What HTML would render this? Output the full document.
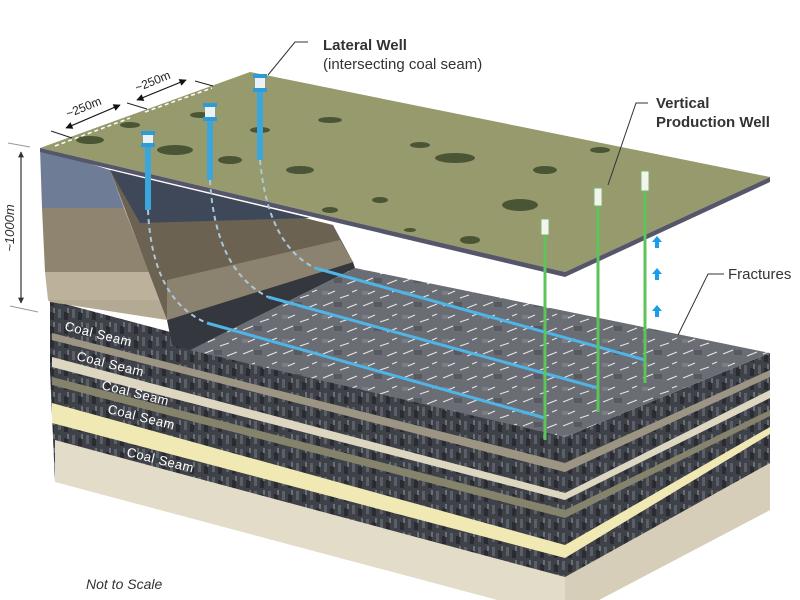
<!DOCTYPE html>
<html><head><meta charset="utf-8"><style>
html,body{margin:0;padding:0;background:#fff;}
svg{display:block;font-family:"Liberation Sans",sans-serif;}
</style></head><body>
<svg width="800" height="600" viewBox="0 0 800 600" xmlns="http://www.w3.org/2000/svg">
<defs>
<marker id="ah" viewBox="0 0 10 10" refX="9" refY="5" markerWidth="6" markerHeight="6" orient="auto-start-reverse"><path d="M0,0 L10,5 L0,10 z" fill="#111"/></marker>
<marker id="ah2" viewBox="0 0 10 10" refX="9" refY="5" markerWidth="5" markerHeight="5" orient="auto-start-reverse"><path d="M0,0 L10,5 L0,10 z" fill="#333"/></marker>
<pattern id="coal" width="14" height="14" patternUnits="userSpaceOnUse">
<rect width="14" height="14" fill="#3e4148"/><rect x="2" y="1" width="3" height="9" fill="#5b5f67"/><rect x="8" y="4" width="4" height="8" fill="#2a2c31"/><rect x="11" y="0" width="2" height="5" fill="#6a6e75"/>
</pattern>
<pattern id="plat" width="40" height="24" patternUnits="userSpaceOnUse">
<rect width="40" height="24" fill="#6a6d73"/><rect x="14" y="14" width="8" height="5" fill="#575a60"/><rect x="2" y="3" width="7" height="4" fill="#7a7d83"/>
<path d="M3,18 l10,-4 M20,10 l9,-3 M8,6 l7,-3 M27,20 l10,-4 M32,4 l5,-2" stroke="#e8e8e8" stroke-width="1"/>
</pattern>
</defs>

<!-- block front face: coal layers -->
<polygon points="50,300 565,437 565,620 50,620" fill="url(#coal)"/>
<polygon points="52,333 565,463 565,472 52,340" fill="#9d9583"/>
<polygon points="52,357 565,493 565,500 52,367" fill="#ddd6c0"/>
<polygon points="52,377 565,510 565,518 52,385" fill="#86836d"/>
<polygon points="52,403 565,545 565,558 52,423" fill="#f1e9b4"/>
<polygon points="55,440 565,577 565,620 55,620" fill="#e3dcc8"/>
<!-- right face -->
<polygon points="565,437 770,353 770,510 565,620" fill="url(#coal)"/>
<polygon points="565,463 770,370 770,377 565,472" fill="#9d9583"/>
<polygon points="565,493 770,390 770,398 565,500" fill="#ddd6c0"/>
<polygon points="565,510 770,410 770,416 565,518" fill="#86836d"/>
<polygon points="565,545 770,427 770,434 565,558" fill="#f1e9b4"/>
<polygon points="565,577 770,463 770,510 565,620" fill="#d6ceb8"/>
<!-- white cut-offs -->
<polygon points="0,140 40,148 55,482 565,618 565,620 0,620" fill="#fff"/>
<polygon points="565,618 770,510 800,510 800,620" fill="#fff"/>

<!-- plateau top -->
<polygon points="190,350 355,268 770,353 565,437" fill="url(#plat)"/>
<!-- coal face under slope -->
<polygon points="167,320 353,262 355,268 190,350 172,345" fill="#34373d"/>

<!-- upper left front face -->
<polygon points="40,148 110,170 124,208 42,208" fill="#6e7d95"/>
<polygon points="42,208 124,208 149,272 45,272" fill="#8e8470"/>
<polygon points="45,272 149,272 160,300 48,300" fill="#bcb29c"/>
<polygon points="48,300 160,300 167,320 50,302" fill="#b4aa93"/>
<!-- slope face -->
<polygon points="110,170 333,225 353,262 167,320" fill="#6b6252"/>
<polygon points="110,170 310,218 140,223" fill="#3e4858"/>
<polygon points="167,280 340,240 353,262 167,320" fill="#8b836f"/>

<!-- terrain plate -->
<polygon points="40,148 250,72 770,177 565,272" fill="#969a6c"/>
<polygon points="40,148 565,272 565,277 40,152" fill="#55566a"/>
<polygon points="565,272 770,177 770,182 565,277" fill="#55566a"/>
<g fill="#3d4a2c" opacity="0.85">
<ellipse cx="90" cy="140" rx="14" ry="4"/><ellipse cx="130" cy="125" rx="10" ry="3"/><ellipse cx="175" cy="150" rx="18" ry="5"/>
<ellipse cx="230" cy="160" rx="12" ry="4"/><ellipse cx="200" cy="115" rx="10" ry="3"/><ellipse cx="300" cy="170" rx="14" ry="4"/>
<ellipse cx="330" cy="120" rx="12" ry="3"/><ellipse cx="420" cy="145" rx="10" ry="3"/><ellipse cx="455" cy="158" rx="20" ry="5"/>
<ellipse cx="520" cy="205" rx="18" ry="6"/><ellipse cx="470" cy="240" rx="10" ry="4"/><ellipse cx="545" cy="170" rx="12" ry="4"/>
<ellipse cx="380" cy="200" rx="8" ry="3"/><ellipse cx="260" cy="130" rx="10" ry="3"/><ellipse cx="600" cy="150" rx="10" ry="3"/>
<ellipse cx="330" cy="210" rx="8" ry="3"/><ellipse cx="410" cy="230" rx="6" ry="2"/>
</g>
<path d="M55,146 L130,118 M145,112 L212,88" stroke="#fff" stroke-width="1.5" stroke-dasharray="4,3"/>

<!-- lateral wells -->
<g fill="none" stroke="#aac8dc" stroke-width="2" stroke-dasharray="5,4">
<path d="M148,210 Q152,300 207,323"/>
<path d="M210,180 Q215,270 268,297"/>
<path d="M260,160 Q268,245 315,268"/>
</g>
<g stroke="#4fb4e6" stroke-width="3" fill="none">
<path d="M207,323 L545,418"/><path d="M268,297 L598,388"/><path d="M315,268 L645,360"/>
</g>
<g>
<rect x="145" y="145" width="6" height="65" fill="#3aa6dd"/><rect x="207" y="117" width="6" height="63" fill="#3aa6dd"/><rect x="257" y="88" width="6" height="72" fill="#3aa6dd"/>
<rect x="143" y="135" width="10" height="10" fill="#e8f2f8"/><rect x="205" y="107" width="10" height="10" fill="#e8f2f8"/><rect x="255" y="78" width="10" height="10" fill="#e8f2f8"/>
<rect x="141" y="131" width="14" height="4" fill="#2f9bd6"/><rect x="203" y="117" width="14" height="4" fill="#2f9bd6"/><rect x="253" y="88" width="14" height="4" fill="#2f9bd6"/>
<rect x="203" y="103" width="14" height="4" fill="#2f9bd6"/><rect x="253" y="74" width="14" height="4" fill="#2f9bd6"/><rect x="141" y="143" width="14" height="4" fill="#2f9bd6"/>
</g>

<!-- vertical wells -->
<g stroke="#5cc45a" stroke-width="3">
<line x1="545" y1="222" x2="545" y2="440"/><line x1="598" y1="190" x2="598" y2="412"/><line x1="645" y1="173" x2="645" y2="383"/>
</g>
<g fill="#f4f4ee" stroke="#7fb26f" stroke-width="1">
<rect x="541" y="219" width="8" height="16"/><rect x="594" y="188" width="8" height="18"/><rect x="641" y="171" width="8" height="20"/>
</g>
<g fill="#1a9ee8">
<path d="M657,236 l5,6 h-3 v6 h-4 v-6 h-3z"/><path d="M657,268 l5,6 h-3 v6 h-4 v-6 h-3z"/><path d="M657,305 l5,6 h-3 v6 h-4 v-6 h-3z"/>
</g>

<!-- labels -->
<g fill="#fff" font-size="13" letter-spacing="0.5">
<text x="64" y="330" transform="rotate(14 64 330)">Coal  Seam</text>
<text x="76" y="360" transform="rotate(14 76 360)">Coal  Seam</text>
<text x="101" y="389" transform="rotate(14 101 389)">Coal  Seam</text>
<text x="107" y="413" transform="rotate(14 107 413)">Coal  Seam</text>
<text x="126" y="456" transform="rotate(14 126 456)">Coal  Seam</text>
</g>
<text x="86" y="589" font-size="14" font-style="italic" fill="#333">Not to Scale</text>

<text x="323" y="50" font-size="15" font-weight="bold" fill="#333">Lateral Well</text>
<text x="323" y="69" font-size="15" fill="#333">(intersecting coal seam)</text>
<path d="M308,42 H295 L268,75" stroke="#333" fill="none" stroke-width="1"/>

<text x="656" y="108" font-size="15" font-weight="bold" fill="#333">Vertical</text>
<text x="656" y="127" font-size="15" font-weight="bold" fill="#333">Production Well</text>
<path d="M648,103 H636 L608,185" stroke="#333" fill="none" stroke-width="1"/>

<text x="728" y="279" font-size="15" fill="#333">Fractures</text>
<path d="M724,274 H708 L678,335" stroke="#333" fill="none" stroke-width="1"/>

<line x1="21" y1="152" x2="21" y2="303" stroke="#333" stroke-width="1.2" marker-start="url(#ah2)" marker-end="url(#ah2)"/>
<line x1="8" y1="143" x2="30" y2="147" stroke="#999"/>
<line x1="10" y1="306" x2="38" y2="312" stroke="#999"/>
<text x="14" y="228" font-size="13" font-style="italic" fill="#333" text-anchor="middle" transform="rotate(-90 14 228)">~1000m</text>

<line x1="51" y1="131" x2="72" y2="138" stroke="#222"/>
<line x1="127" y1="103" x2="147" y2="109" stroke="#222"/>
<line x1="195" y1="81" x2="213" y2="86" stroke="#222"/>
<line x1="66" y1="128" x2="120" y2="105" stroke="#111" stroke-width="1.2" marker-start="url(#ah)" marker-end="url(#ah)"/>
<line x1="137" y1="100" x2="186" y2="80" stroke="#111" stroke-width="1.2" marker-start="url(#ah)" marker-end="url(#ah)"/>
<text x="68" y="118" font-size="12" fill="#222" transform="rotate(-22 68 118)">~250m</text>
<text x="137" y="92" font-size="12" fill="#222" transform="rotate(-22 137 92)">~250m</text>
</svg>
</body></html>
